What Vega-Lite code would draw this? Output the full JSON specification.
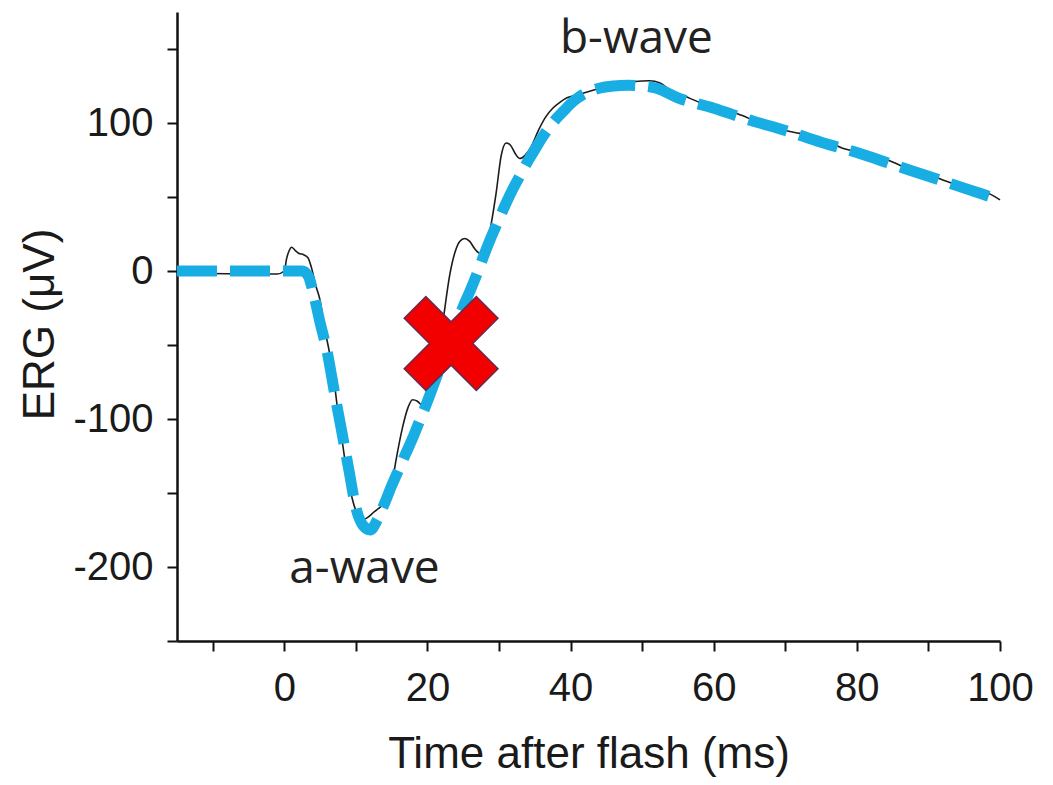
{
  "$schema": "https://vega.github.io/schema/vega-lite/v6.json",
  "autosize": "none",
  "width": 823,
  "height": 629,
  "padding": {"left": 177, "top": 12, "right": 53, "bottom": 144},
  "background": "white",
  "config": {
    "view": {"stroke": null},
    "axis": {
      "grid": false,
      "domainColor": "#111",
      "domainWidth": 2.5,
      "tickColor": "#111",
      "tickWidth": 2,
      "tickSize": 10,
      "labelFont": "Liberation Sans",
      "labelFontSize": 40,
      "labelColor": "#1a1a1a",
      "titleFont": "Liberation Sans",
      "titleFontSize": 44,
      "titleFontWeight": "normal",
      "titleColor": "#1a1a1a"
    }
  },
  "datasets": {
    "trace": [
      {"t": -15, "v": -1}, {"t": -5, "v": -2}, {"t": -1, "v": -2}, {"t": 0, "v": 0},
      {"t": 0.3, "v": 8}, {"t": 0.7, "v": 14}, {"t": 1, "v": 16}, {"t": 1.5, "v": 14},
      {"t": 2, "v": 12}, {"t": 2.7, "v": 11}, {"t": 3.3, "v": 9}, {"t": 3.8, "v": 2},
      {"t": 4.4, "v": -10}, {"t": 5, "v": -20}, {"t": 5.6, "v": -38}, {"t": 6.3, "v": -55},
      {"t": 7, "v": -76}, {"t": 7.4, "v": -92}, {"t": 8, "v": -112}, {"t": 8.6, "v": -132},
      {"t": 9.3, "v": -150}, {"t": 10, "v": -162}, {"t": 10.9, "v": -168}, {"t": 11.5, "v": -167},
      {"t": 12.5, "v": -163}, {"t": 13.5, "v": -159}, {"t": 14.5, "v": -154}, {"t": 15, "v": -145},
      {"t": 15.6, "v": -128}, {"t": 16.5, "v": -106}, {"t": 17.3, "v": -92}, {"t": 17.9, "v": -87},
      {"t": 18.6, "v": -88}, {"t": 19.3, "v": -91}, {"t": 20, "v": -88}, {"t": 20.5, "v": -84},
      {"t": 21.5, "v": -60}, {"t": 22.4, "v": -26}, {"t": 23.1, "v": -3}, {"t": 23.8, "v": 12},
      {"t": 24.5, "v": 20}, {"t": 25.2, "v": 22}, {"t": 25.9, "v": 20}, {"t": 26.6, "v": 15},
      {"t": 27.3, "v": 12}, {"t": 28, "v": 16}, {"t": 28.7, "v": 27}, {"t": 29.6, "v": 53},
      {"t": 30.3, "v": 78}, {"t": 31, "v": 86.5}, {"t": 31.6, "v": 85}, {"t": 32.3, "v": 79},
      {"t": 32.9, "v": 76}, {"t": 33.6, "v": 78}, {"t": 34.5, "v": 84}, {"t": 35.5, "v": 95},
      {"t": 36.5, "v": 104}, {"t": 37.5, "v": 110}, {"t": 38.5, "v": 114}, {"t": 39.5, "v": 117},
      {"t": 41, "v": 119}, {"t": 43, "v": 122}, {"t": 45, "v": 124.5}, {"t": 47, "v": 126.5},
      {"t": 49, "v": 128}, {"t": 51, "v": 128.5}, {"t": 52.5, "v": 127}, {"t": 54, "v": 122},
      {"t": 56, "v": 118}, {"t": 58, "v": 114}, {"t": 60, "v": 110.5}, {"t": 62, "v": 108.5},
      {"t": 64, "v": 105}, {"t": 66, "v": 101}, {"t": 68, "v": 98.5}, {"t": 70, "v": 95},
      {"t": 72, "v": 93}, {"t": 74, "v": 90.5}, {"t": 76, "v": 87.5}, {"t": 78, "v": 83},
      {"t": 80, "v": 80.5}, {"t": 82, "v": 77.5}, {"t": 84, "v": 75.5}, {"t": 86, "v": 71.5},
      {"t": 88, "v": 67.5}, {"t": 90, "v": 65.5}, {"t": 92, "v": 61.5}, {"t": 94, "v": 58},
      {"t": 96, "v": 54}, {"t": 98, "v": 53}, {"t": 100, "v": 48}
    ],
    "fit": [
      {"t": -15, "v": 0}, {"t": 2.5, "v": 0}, {"t": 3.3, "v": -3}, {"t": 4.2, "v": -18},
      {"t": 5, "v": -35}, {"t": 6, "v": -55}, {"t": 7, "v": -82}, {"t": 8, "v": -108},
      {"t": 9, "v": -134}, {"t": 10, "v": -160}, {"t": 11, "v": -172}, {"t": 12, "v": -175},
      {"t": 13, "v": -168}, {"t": 14, "v": -157}, {"t": 15, "v": -145}, {"t": 16, "v": -134},
      {"t": 17, "v": -123}, {"t": 18, "v": -112}, {"t": 19, "v": -100}, {"t": 20, "v": -88},
      {"t": 21, "v": -75}, {"t": 22, "v": -62}, {"t": 23, "v": -48}, {"t": 24, "v": -36},
      {"t": 25, "v": -24}, {"t": 26, "v": -13}, {"t": 27, "v": -1}, {"t": 28, "v": 12},
      {"t": 29, "v": 24}, {"t": 30, "v": 35}, {"t": 31, "v": 46}, {"t": 32, "v": 56},
      {"t": 33, "v": 65}, {"t": 34, "v": 74}, {"t": 35, "v": 82}, {"t": 36, "v": 90},
      {"t": 37, "v": 97}, {"t": 38, "v": 103}, {"t": 39, "v": 108}, {"t": 40, "v": 113},
      {"t": 41, "v": 117}, {"t": 42, "v": 120}, {"t": 44, "v": 123.5}, {"t": 46, "v": 125},
      {"t": 48, "v": 125.5}, {"t": 50, "v": 125}, {"t": 52, "v": 123.5}, {"t": 55, "v": 117},
      {"t": 60, "v": 110}, {"t": 65, "v": 102}, {"t": 70, "v": 95}, {"t": 75, "v": 87},
      {"t": 80, "v": 80}, {"t": 85, "v": 72}, {"t": 90, "v": 64}, {"t": 95, "v": 56},
      {"t": 100, "v": 48}
    ],
    "marker": [{"t": 23.3, "v": -49}],
    "labels": [
      {"t": 11.2, "v": -210.5, "text": "a-wave"},
      {"t": 49.2, "v": 147.6, "text": "b-wave"}
    ]
  },
  "encoding": {
    "x": {
      "field": "t", "type": "quantitative",
      "scale": {"domain": [-15, 100], "nice": false, "zero": false},
      "axis": {
        "title": "Time after flash (ms)",
        "values": [-10, 0, 10, 20, 30, 40, 50, 60, 70, 80, 90, 100],
        "labelExpr": "datum.value % 20 === 0 ? toString(datum.value) : ''",
        "labelPadding": 17,
        "labelFlush": false,
        "titleBaseline": "alphabetic",
        "titleY": 126
      }
    },
    "y": {
      "field": "v", "type": "quantitative",
      "scale": {"domain": [-250, 175], "nice": false, "zero": false},
      "axis": {
        "title": "ERG (μV)",
        "values": [-250, -200, -150, -100, -50, 0, 50, 100, 150],
        "labelExpr": "datum.value % 100 === 0 ? toString(datum.value) : ''",
        "labelPadding": 14,
        "labelFlush": false,
        "titleX": -137,
        "titleY": 312,
        "titleBaseline": "middle"
      }
    }
  },
  "layer": [
    {
      "data": {"name": "trace"},
      "mark": {"type": "line", "color": "#1c1c1c", "strokeWidth": 1.6, "interpolate": "monotone"}
    },
    {
      "data": {"name": "fit"},
      "mark": {"type": "line", "color": "#18aee4", "strokeWidth": 11, "strokeDash": [40, 13], "strokeCap": "butt", "interpolate": "monotone"}
    },
    {
      "data": {"name": "marker"},
      "mark": {
        "type": "point",
        "shape": "M-0.3,-1L0.3,-1L0.3,-0.3L1,-0.3L1,0.3L0.3,0.3L0.3,1L-0.3,1L-0.3,0.3L-1,0.3L-1,-0.3L-0.3,-0.3Z",
        "angle": 45,
        "size": 10400,
        "filled": true,
        "fill": "#f20000",
        "stroke": "#6a2a50",
        "strokeWidth": 1.5,
        "opacity": 1
      }
    },
    {
      "data": {"name": "labels"},
      "mark": {"type": "text", "font": "Open Sans", "fontSize": 46, "color": "#222", "align": "center", "baseline": "alphabetic"},
      "encoding": {"text": {"field": "text"}}
    }
  ]
}
